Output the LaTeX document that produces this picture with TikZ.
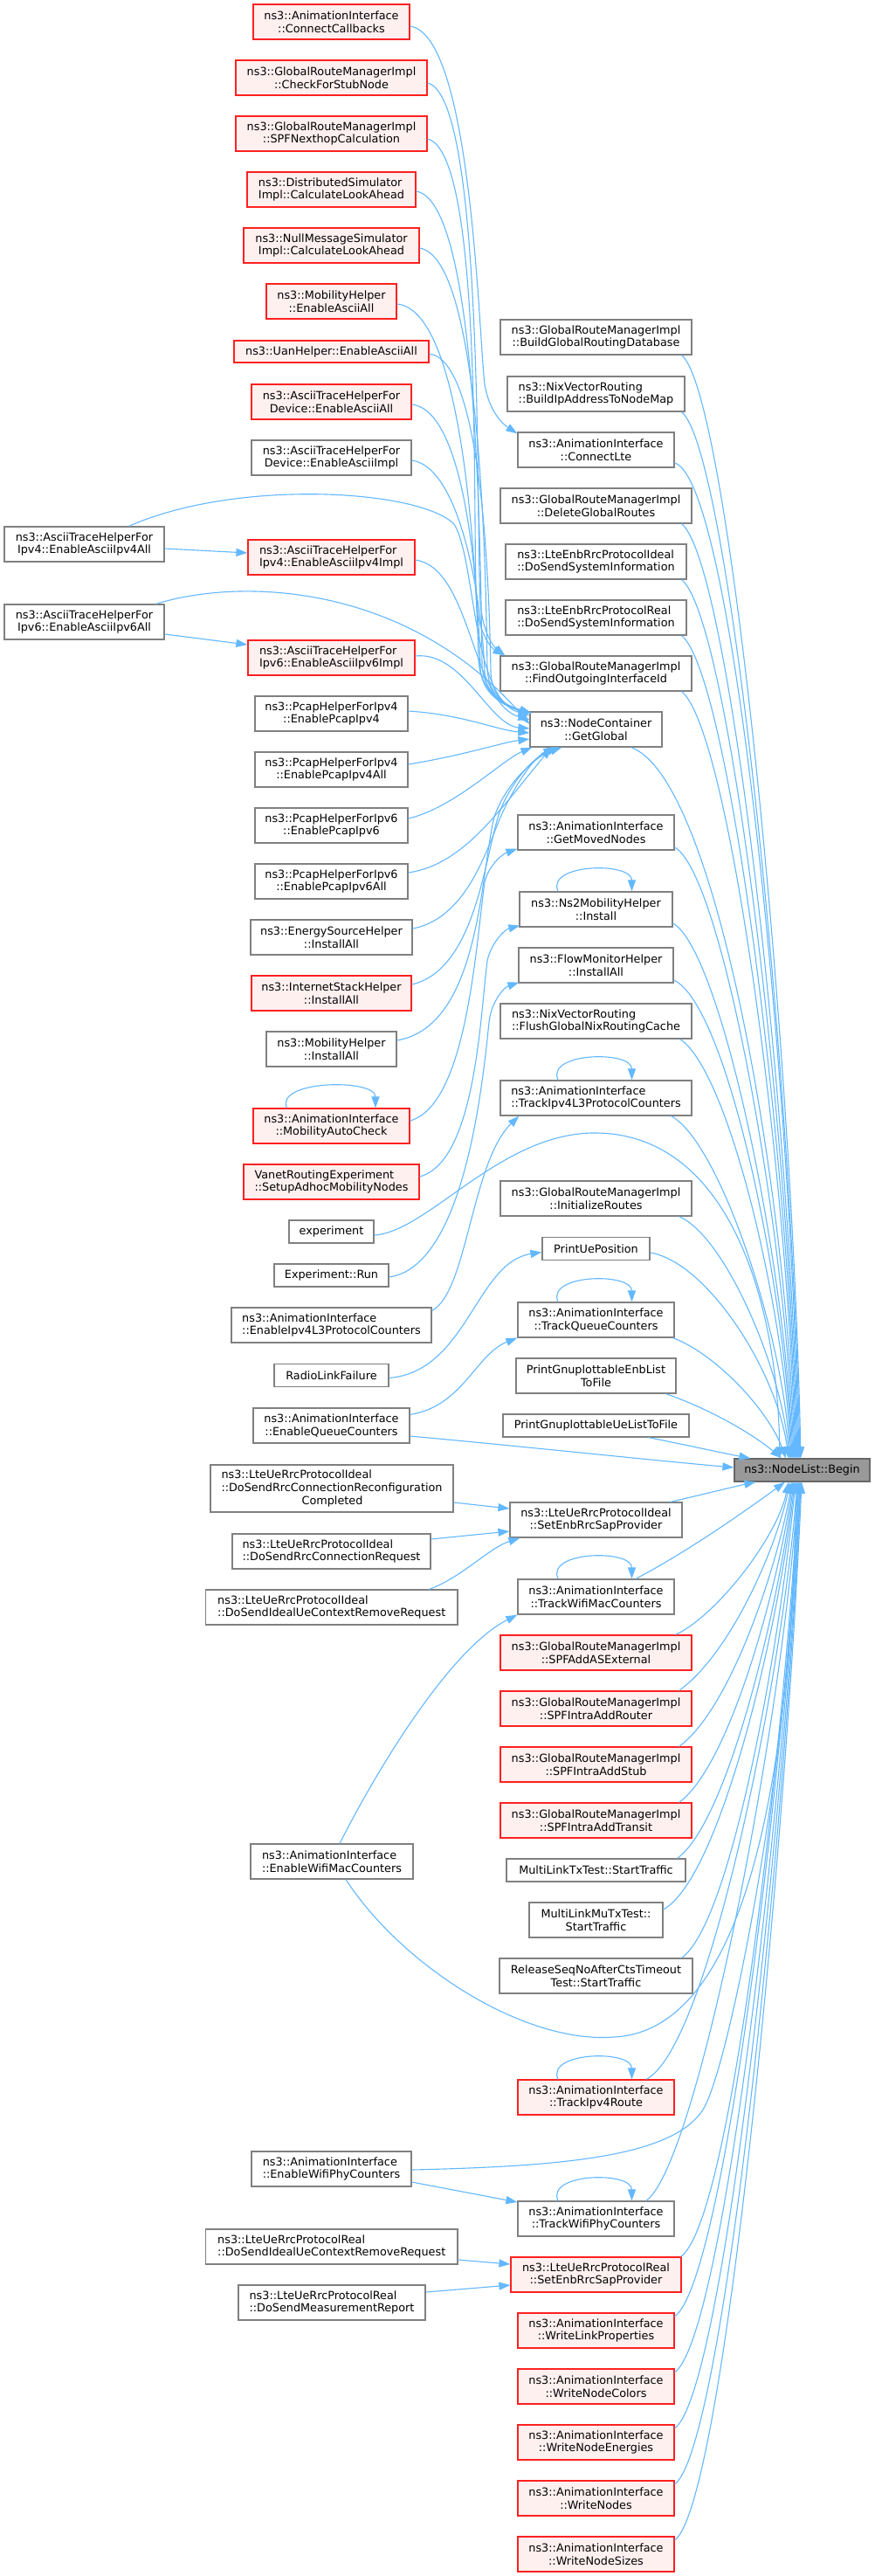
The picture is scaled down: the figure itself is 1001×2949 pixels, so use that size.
\documentclass[tikz,border=0pt]{standalone}
\usepackage{fontspec}
\newfontfamily\dvfont{DejaVu Sans}
\usetikzlibrary{arrows.meta,calc}
\definecolor{edgec}{HTML}{63B8FF}
\definecolor{grayc}{HTML}{808080}
\definecolor{redc}{HTML}{FF2020}
\definecolor{pinkc}{HTML}{FFF0F0}
\definecolor{beginfill}{HTML}{999999}
\definecolor{beginline}{HTML}{666666}
\begin{document}
\begin{tikzpicture}[x=1pt,y=-1pt,
  nd/.style={line width=1.2pt, inner sep=0pt, font={\dvfont\fontsize{12.8pt}{14.7pt}\selectfont}, align=center, text=black},
  gbox/.style={nd, draw=grayc, fill=white},
  rbox/.style={nd, draw=redc, fill=pinkc},
  bbox/.style={nd, draw=beginline, fill=beginfill},
  lft/.style={align=left},
  conn/.style={draw=edgec, line width=1.1pt, -{Triangle[length=13pt,width=9pt]}}
]
\fill[white] (0,0) rectangle (1001,2949);
\useasboundingbox (0,0) rectangle (1001,2949);

% ---------- left-middle column ----------
\node[rbox,minimum width=179pt,minimum height=40pt] (n1) at (379.5,25) {ns3::AnimationInterface\\::ConnectCallbacks};
\node[rbox,minimum width=219pt,minimum height=40pt] (n2) at (379.5,89) {ns3::GlobalRouteManagerImpl\\::CheckForStubNode};
\node[rbox,minimum width=219pt,minimum height=40pt] (n3) at (379.5,153) {ns3::GlobalRouteManagerImpl\\::SPFNexthopCalculation};
\node[rbox,lft,minimum width=193pt,minimum height=40pt] (n4) at (379.5,217) {ns3::DistributedSimulator\\Impl::CalculateLookAhead};
\node[rbox,minimum width=201pt,minimum height=40pt] (n5) at (379.5,281) {ns3::NullMessageSimulator\\Impl::CalculateLookAhead};
\node[rbox,minimum width=149pt,minimum height=40pt] (n6) at (379.5,345) {ns3::MobilityHelper\\::EnableAsciiAll};
\node[rbox,minimum width=223pt,minimum height=25pt] (n7) at (379.5,402.5) {ns3::UanHelper::EnableAsciiAll};
\node[rbox,minimum width=183pt,minimum height=40pt] (n8) at (379.5,460) {ns3::AsciiTraceHelperFor\\Device::EnableAsciiAll};
\node[gbox,minimum width=183pt,minimum height=40pt] (n9) at (379.5,524) {ns3::AsciiTraceHelperFor\\Device::EnableAsciiImpl};
\node[gbox,minimum width=183pt,minimum height=40pt] (L1) at (96.5,623) {ns3::AsciiTraceHelperFor\\Ipv4::EnableAsciiIpv4All};
\node[rbox,lft,minimum width=191pt,minimum height=40pt] (n10) at (379.5,638) {ns3::AsciiTraceHelperFor\\Ipv4::EnableAsciiIpv4Impl};
\node[gbox,minimum width=183pt,minimum height=40pt] (L2) at (96.5,712) {ns3::AsciiTraceHelperFor\\Ipv6::EnableAsciiIpv6All};
\node[rbox,lft,minimum width=191pt,minimum height=40pt] (n11) at (379.5,753) {ns3::AsciiTraceHelperFor\\Ipv6::EnableAsciiIpv6Impl};
\node[gbox,minimum width=175pt,minimum height=40pt] (n12) at (379.5,817) {ns3::PcapHelperForIpv4\\::EnablePcapIpv4};
\node[gbox,minimum width=175pt,minimum height=40pt] (n13) at (379.5,881) {ns3::PcapHelperForIpv4\\::EnablePcapIpv4All};
\node[gbox,minimum width=175pt,minimum height=40pt] (n14) at (379.5,945) {ns3::PcapHelperForIpv6\\::EnablePcapIpv6};
\node[gbox,minimum width=175pt,minimum height=40pt] (n15) at (379.5,1009) {ns3::PcapHelperForIpv6\\::EnablePcapIpv6All};
\node[gbox,minimum width=185pt,minimum height=40pt] (n16) at (379.5,1073) {ns3::EnergySourceHelper\\::InstallAll};
\node[rbox,minimum width=183pt,minimum height=40pt] (n17) at (379.5,1137) {ns3::InternetStackHelper\\::InstallAll};
\node[gbox,minimum width=149pt,minimum height=40pt] (n18) at (379.5,1201) {ns3::MobilityHelper\\::InstallAll};
\node[rbox,minimum width=179pt,minimum height=40pt] (n19) at (379.5,1289) {ns3::AnimationInterface\\::MobilityAutoCheck};
\node[rbox,lft,minimum width=201pt,minimum height=40pt] (n20) at (379.5,1353) {VanetRoutingExperiment\\::SetupAdhocMobilityNodes};
\node[gbox,minimum width=97pt,minimum height=26pt] (n21) at (379.5,1410) {experiment};
\node[gbox,minimum width=131pt,minimum height=26pt] (n22) at (379.5,1460) {Experiment::Run};
\node[gbox,lft,minimum width=229pt,minimum height=40pt] (n23) at (379.5,1517) {ns3::AnimationInterface\\::EnableIpv4L3ProtocolCounters};
\node[gbox,minimum width=131pt,minimum height=26pt] (n24) at (379.5,1574.5) {RadioLinkFailure};
\node[gbox,minimum width=179pt,minimum height=40pt] (n25) at (379.5,1632) {ns3::AnimationInterface\\::EnableQueueCounters};
\node[gbox,lft,minimum width=278pt,minimum height=54pt] (n26) at (380,1704) {ns3::LteUeRrcProtocolIdeal\\::DoSendRrcConnectionReconfiguration\\\hspace*{92.1pt}Completed};
\node[gbox,lft,minimum width=227pt,minimum height=40pt] (n27) at (379.5,1776) {ns3::LteUeRrcProtocolIdeal\\::DoSendRrcConnectionRequest};
\node[gbox,lft,minimum width=288.5pt,minimum height=40pt] (n28) at (379.75,1840) {ns3::LteUeRrcProtocolIdeal\\::DoSendIdealUeContextRemoveRequest};
\node[gbox,lft,minimum width=186pt,minimum height=40pt] (n29) at (380,2131) {ns3::AnimationInterface\\::EnableWifiMacCounters};
\node[gbox,lft,minimum width=183pt,minimum height=40pt] (n30) at (379.5,2483) {ns3::AnimationInterface\\::EnableWifiPhyCounters};
\node[gbox,lft,minimum width=288.5pt,minimum height=40pt] (n31) at (379.75,2572) {ns3::LteUeRrcProtocolReal\\::DoSendIdealUeContextRemoveRequest};
\node[gbox,lft,minimum width=214pt,minimum height=40pt] (n32) at (380,2636) {ns3::LteUeRrcProtocolReal\\::DoSendMeasurementReport};

% ---------- middle column ----------
\node[gbox,minimum width=219pt,minimum height=40pt] (m1) at (682.5,386) {ns3::GlobalRouteManagerImpl\\::BuildGlobalRoutingDatabase};
\node[gbox,lft,minimum width=203pt,minimum height=40pt] (m2) at (682.5,451) {ns3::NixVectorRouting\\::BuildIpAddressToNodeMap};
\node[gbox,minimum width=179pt,minimum height=40pt] (m3) at (682.5,515) {ns3::AnimationInterface\\::ConnectLte};
\node[gbox,minimum width=219pt,minimum height=40pt] (m4) at (682.5,579) {ns3::GlobalRouteManagerImpl\\::DeleteGlobalRoutes};
\node[gbox,lft,minimum width=207pt,minimum height=40pt] (m5) at (682.5,643) {ns3::LteEnbRrcProtocolIdeal\\::DoSendSystemInformation};
\node[gbox,lft,minimum width=207pt,minimum height=40pt] (m6) at (682.5,707) {ns3::LteEnbRrcProtocolReal\\::DoSendSystemInformation};
\node[gbox,minimum width=219pt,minimum height=40pt] (m7) at (682.5,771) {ns3::GlobalRouteManagerImpl\\::FindOutgoingInterfaceId};
\node[gbox,minimum width=151pt,minimum height=40pt] (m8) at (682.5,835) {ns3::NodeContainer\\::GetGlobal};
\node[gbox,minimum width=179pt,minimum height=40pt] (m9) at (682.5,953) {ns3::AnimationInterface\\::GetMovedNodes};
\node[gbox,minimum width=175pt,minimum height=40pt] (m10) at (682.5,1041) {ns3::Ns2MobilityHelper\\::Install};
\node[gbox,minimum width=177pt,minimum height=40pt] (m11) at (682.5,1105) {ns3::FlowMonitorHelper\\::InstallAll};
\node[gbox,lft,minimum width=219pt,minimum height=40pt] (m12) at (682.5,1169) {ns3::NixVectorRouting\\::FlushGlobalNixRoutingCache};
\node[gbox,lft,minimum width=219pt,minimum height=40pt] (m13) at (682.5,1257) {ns3::AnimationInterface\\::TrackIpv4L3ProtocolCounters};
\node[gbox,minimum width=219pt,minimum height=40pt] (m14) at (682.5,1372) {ns3::GlobalRouteManagerImpl\\::InitializeRoutes};
\node[gbox,minimum width=123pt,minimum height=26pt] (m15) at (682.5,1429.5) {PrintUePosition};
\node[gbox,minimum width=179pt,minimum height=40pt] (m16) at (682.5,1511) {ns3::AnimationInterface\\::TrackQueueCounters};
\node[gbox,minimum width=183pt,minimum height=40pt] (m17) at (682.5,1575) {PrintGnuplottableEnbList\\ToFile};
\node[gbox,minimum width=213pt,minimum height=26pt] (m18) at (682.5,1632) {PrintGnuplottableUeListToFile};
\node[bbox,minimum width=155pt,minimum height=26pt] (B) at (918.5,1683) {ns3::NodeList::Begin};
\node[gbox,minimum width=197pt,minimum height=40pt] (m19) at (682.5,1740) {ns3::LteUeRrcProtocolIdeal\\::SetEnbRrcSapProvider};
\node[gbox,minimum width=179pt,minimum height=40pt] (m20) at (682.5,1828) {ns3::AnimationInterface\\::TrackWifiMacCounters};
\node[rbox,minimum width=219pt,minimum height=40pt] (m21) at (682.5,1892) {ns3::GlobalRouteManagerImpl\\::SPFAddASExternal};
\node[rbox,minimum width=219pt,minimum height=40pt] (m22) at (682.5,1956) {ns3::GlobalRouteManagerImpl\\::SPFIntraAddRouter};
\node[rbox,minimum width=219pt,minimum height=40pt] (m23) at (682.5,2020) {ns3::GlobalRouteManagerImpl\\::SPFIntraAddStub};
\node[rbox,minimum width=219pt,minimum height=40pt] (m24) at (682.5,2084) {ns3::GlobalRouteManagerImpl\\::SPFIntraAddTransit};
\node[gbox,minimum width=205pt,minimum height=26pt] (m25) at (682.5,2141) {MultiLinkTxTest::StartTraffic};
\node[gbox,minimum width=153pt,minimum height=40pt] (m26) at (682.5,2198) {MultiLinkMuTxTest::\\StartTraffic};
\node[gbox,minimum width=221pt,minimum height=40pt] (m27) at (682.5,2262) {ReleaseSeqNoAfterCtsTimeout\\Test::StartTraffic};
\node[rbox,minimum width=179pt,minimum height=40pt] (m28) at (682.5,2401) {ns3::AnimationInterface\\::TrackIpv4Route};
\node[gbox,minimum width=179pt,minimum height=40pt] (m29) at (682.5,2540) {ns3::AnimationInterface\\::TrackWifiPhyCounters};
\node[rbox,minimum width=195pt,minimum height=40pt] (m30) at (682.5,2604) {ns3::LteUeRrcProtocolReal\\::SetEnbRrcSapProvider};
\node[rbox,minimum width=179pt,minimum height=40pt] (m31) at (682.5,2668) {ns3::AnimationInterface\\::WriteLinkProperties};
\node[rbox,minimum width=179pt,minimum height=40pt] (m32) at (682.5,2732) {ns3::AnimationInterface\\::WriteNodeColors};
\node[rbox,minimum width=179pt,minimum height=40pt] (m33) at (682.5,2796) {ns3::AnimationInterface\\::WriteNodeEnergies};
\node[rbox,minimum width=179pt,minimum height=40pt] (m34) at (682.5,2860) {ns3::AnimationInterface\\::WriteNodes};
\node[rbox,minimum width=179pt,minimum height=40pt] (m35) at (682.5,2924) {ns3::AnimationInterface\\::WriteNodeSizes};

% ---------- edges: left-middle to middle ----------
\draw[conn] ($(n1.east)+(0,5)$) .. controls (540,40) and (548,380) .. (555,440) .. controls (560,470) and (575,485) .. ($(m3.north west)+(0,2)$);
\draw[conn] ($(n2.east)+(0,6)$) .. controls (555,110) and (545,600) .. (550,690) .. controls (553,725) and (565,740) .. ($(m7.north west)+(6,0)$);
\draw[conn] ($(n3.east)+(0,6)$) .. controls (555,175) and (540,610) .. (546,695) .. controls (550,728) and (563,742) .. ($(m7.north west)+(5,0)$);

\draw[conn] ($(n4.east)+(0,2)$) .. controls (545,230) and (550,600) .. (552,760) .. controls (553,795) and (580,808) .. ($(m8.north west)+(2,2)$);
\draw[conn] ($(n5.east)+(0,3)$) .. controls (548,295) and (556,620) .. (558,765) .. controls (559,798) and (583,810) .. ($(m8.north west)+(2,2)$);
\draw[conn] ($(n6.east)+(0,3)$) .. controls (530,355) and (545,640) .. (548,755) .. controls (550,795) and (580,808) .. ($(m8.north west)+(2,2)$);
\draw[conn] ($(n7.east)+(0,2.5)$) .. controls (550,412) and (560,650) .. (562,770) .. controls (563,800) and (585,811) .. ($(m8.north west)+(2,2)$);
\draw[conn] ($(n8.east)+(0,3)$) .. controls (535,470) and (548,680) .. (550,765) .. controls (552,797) and (580,809) .. ($(m8.north west)+(2,2)$);
\draw[conn] ($(n9.east)+(0,3)$) .. controls (530,535) and (553,700) .. (555,770) .. controls (556,799) and (582,810) .. ($(m8.north west)+(2,2)$);

\draw[conn] ($(L1.north east)+(-41,0)$) .. controls (270,548) and (480,560) .. (520,600) .. controls (545,640) and (540,800) .. ($(m8.west)+(0,-16)$);
\draw[conn] ($(L1.east)+(0,5)$) -- ($(n10.west)+(0,-5)$);
\draw[conn] ($(n10.east)+(0,3)$) .. controls (540,650) and (540,805) .. ($(m8.west)+(0,-11)$);
\draw[conn] ($(L2.north east)+(-10,0)$) .. controls (280,660) and (470,670) .. ($(m8.west)+(0,-6)$);
\draw[conn] ($(L2.east)+(0,14)$) -- ($(n11.west)+(0,-15)$);
\draw[conn] ($(n11.east)+(0,-2)$) .. controls (530,745) and (560,830) .. ($(m8.west)+(0,-1)$);
\draw[conn] ($(n12.east)+(0,-3)$) .. controls (530,818) and (570,836) .. ($(m8.west)+(0,4)$);
\draw[conn] ($(n13.east)+(0,-6)$) .. controls (530,865) and (575,850) .. ($(m8.west)+(0,11)$);
\draw[conn] ($(n14.east)+(0,-8)$) .. controls (520,925) and (575,870) .. ($(m8.south west)+(3,0)$);
\draw[conn] ($(n15.east)+(0,-10)$) .. controls (530,990) and (570,930) .. ($(m8.south west)+(25,0)$);
\draw[conn] ($(n16.east)+(0,-10)$) .. controls (540,1050) and (560,960) .. (578,925) .. controls (590,900) and (610,868) .. ($(m8.south west)+(29,0)$);
\draw[conn] ($(n17.east)+(0,-10)$) .. controls (545,1110) and (555,980) .. (572,930) .. controls (585,895) and (612,866) .. ($(m8.south west)+(33,0)$);
\draw[conn] ($(n18.east)+(0,-10)$) .. controls (550,1175) and (550,1000) .. (566,935) .. controls (580,895) and (615,865) .. ($(m8.south west)+(37,0)$);

\draw[conn] ($(n19.east)+(0,-6)$) .. controls (535,1265) and (545,1080) .. (555,1010) .. controls (560,990) and (575,978) .. ($(m9.south west)+(0,-2)$);
\draw[conn] ($(n19.north)+(-51,0)$) .. controls +(-14,-32) and +(0,-34) .. ($(n19.north)+(50.5,0)$);
\draw[conn] ($(n20.east)+(0,-6)$) .. controls (545,1330) and (550,1160) .. (558,1100) .. controls (562,1080) and (578,1064) .. ($(m10.south west)+(1,-2)$);
\draw[conn] ($(n22.east)+(0,2)$) .. controls (530,1450) and (552,1250) .. (560,1170) .. controls (563,1145) and (578,1130) .. ($(m11.south west)+(1,-1)$);
\draw[conn] ($(n21.east)+(0,4)$) .. controls (490,1410) and (570,1300) .. (677,1297) .. controls (830,1294) and (890,1480) .. ($(B.north)+(-25.5,0)$);
\draw[conn] ($(n23.north east)+(0,4)$) .. controls (535,1480) and (540,1330) .. ($(m13.south west)+(22,0)$);
\draw[conn] ($(n24.east)+(0,3)$) .. controls (535,1570) and (545,1445) .. ($(m15.west)+(0,4)$);
\draw[conn] ($(n25.north east)+(0,8)$) .. controls (530,1610) and (545,1550) .. (m16.south west);
\draw[conn] ($(n25.east)+(0,12)$) .. controls (600,1656) and (750,1672) .. ($(B.west)+(0,-3)$);
\draw[conn] ($(n26.east)+(0,16)$) -- ($(m19.west)+(0,-13)$);
\draw[conn] ($(n27.east)+(0,-14)$) -- ($(m19.west)+(0,13)$);
\draw[conn] ($(n28.north east)+(-33,0)$) .. controls (530,1805) and (560,1772) .. ($(m19.south west)+(12,0)$);
\draw[conn] ($(n29.north)+(9,0)$) .. controls (440,2010) and (520,1885) .. (m20.south west);
\draw[conn] ($(n29.south)+(16,0)$) .. controls (460,2250) and (600,2340) .. (703,2332) .. controls (850,2325) and (905,2050) .. ($(B.south)+(-6.5,0)$);
\draw[conn] ($(n30.east)+(0,15)$) -- ($(m29.west)+(0,-19)$);
\draw[conn] ($(n30.east)+(0,1)$) .. controls (640,2480) and (770,2470) .. (805,2415) .. controls (835,2368) and (908,2000) .. ($(B.south)+(-4.5,0)$);
\draw[conn] ($(n31.east)+(0,15)$) -- ($(m30.west)+(0,-12)$);
\draw[conn] ($(n32.east)+(0,-12)$) -- ($(m30.west)+(0,12)$);

% ---------- self loops ----------
\foreach \s in {m10,m13,m16,m20,m28,m29}{
  \draw[conn] ($(\s.north)+(-43.5,0)$) .. controls +(-14,-32) and +(0,-34) .. ($(\s.north)+(41,0)$);
}

% ---------- edges: middle to Begin (above) ----------
\draw[conn] ($(m1.south east)+(-12,0)$) .. controls (835,451) and (907,1190) .. ($(B.north)+(-1.5,0)$);
\draw[conn] ($(m2.south east)+(-4,0)$) .. controls (835,516) and (906,1214) .. ($(B.north)+(-2.5,0)$);
\draw[conn] ($(m3.east)+(0,15)$) .. controls (840,550) and (905,1237) .. ($(B.north)+(-3.5,0)$);
\draw[conn] ($(m4.south east)+(-12,0)$) .. controls (835,644) and (904,1263) .. ($(B.north)+(-4.5,0)$);
\draw[conn] ($(m5.south east)+(-6,0)$) .. controls (835,708) and (903,1287) .. ($(B.north)+(-5.5,0)$);
\draw[conn] ($(m6.south east)+(-6,0)$) .. controls (835,772) and (902,1312) .. ($(B.north)+(-6.5,0)$);
\draw[conn] ($(m7.south east)+(-12,0)$) .. controls (835,836) and (901,1336) .. ($(B.north)+(-7.5,0)$);
\draw[conn] ($(m8.south east)+(-36,0)$) .. controls (820,890) and (900,1360) .. ($(B.north)+(-8.5,0)$);
\draw[conn] ($(m9.east)+(0,17)$) .. controls (827,1000) and (899,1404) .. ($(B.north)+(-9.5,0)$);
\draw[conn] ($(m10.east)+(0,16)$) .. controls (825,1087) and (898,1437) .. ($(B.north)+(-10.5,0)$);
\draw[conn] ($(m11.east)+(0,17)$) .. controls (832,1150) and (897,1462) .. ($(B.north)+(-11.5,0)$);
\draw[conn] ($(m12.south east)+(-14,0)$) .. controls (833,1224) and (896,1487) .. ($(B.north)+(-12.5,0)$);
\draw[conn] ($(m13.south east)+(-24,0)$) .. controls (823,1307) and (895,1521) .. ($(B.north)+(-13.5,0)$);
\draw[conn] ($(m14.south east)+(-15,0)$) .. controls (830,1415) and (894,1564) .. ($(B.north)+(-14.5,0)$);
\draw[conn] ($(m15.east)+(0,4.5)$) .. controls (810,1445) and (890,1570) .. ($(B.north)+(-15.5,0)$);
\draw[conn] ($(m16.south east)+(-2,0)$) .. controls (820,1550) and (880,1615) .. ($(B.north)+(-18.5,0)$);
\draw[conn] ($(m17.south east)+(-12,0)$) .. controls (810,1612) and (860,1640) .. ($(B.north)+(-23.5,0)$);
\draw[conn] ($(m18.south east)+(-47,0)$) .. controls (790,1655) and (830,1664) .. ($(B.north west)+(19,0)$);

% ---------- edges: middle to Begin (below) ----------
\draw[conn] ($(m19.north east)+(-14,0)$) .. controls (800,1712) and (840,1702) .. ($(B.south west)+(25,0)$);
\draw[conn] ($(m20.north)+(45.5,0)$) .. controls (790,1775) and (860,1725) .. ($(B.south)+(-19.5,0)$);
\draw[conn] ($(m21.north east)+(-19,0)$) .. controls (820,1850) and (890,1760) .. ($(B.south)+(-15.5,0)$);
\draw[conn] ($(m22.north east)+(-15,0)$) .. controls (835,1894) and (887,1778) .. ($(B.south)+(-13.5,0)$);
\draw[conn] ($(m23.north east)+(-15,0)$) .. controls (835,1958) and (889,1799) .. ($(B.south)+(-11.5,0)$);
\draw[conn] ($(m24.north east)+(-15,0)$) .. controls (835,2022) and (890,1821) .. ($(B.south)+(-10.5,0)$);
\draw[conn] ($(m25.north east)+(-10,0)$) .. controls (833,2086) and (891,1843) .. ($(B.south)+(-9.5,0)$);
\draw[conn] ($(m26.east)+(0,-12)$) .. controls (825,2150) and (892,1863) .. ($(B.south)+(-8.5,0)$);
\draw[conn] ($(m27.north east)+(-13,0)$) .. controls (838,2200) and (893,1882) .. ($(B.south)+(-7.5,0)$);
\draw[conn] ($(m28.north)+(57.5,0)$) .. controls (810,2345) and (895,1929) .. ($(B.south)+(-5.5,0)$);
\draw[conn] ($(m29.north)+(57.5,0)$) .. controls (798,2478) and (896,1976) .. ($(B.south)+(-4.5,0)$);
\draw[conn] ($(m30.north east)+(-1,0)$) .. controls (838,2542) and (897,1998) .. ($(B.south)+(-3.5,0)$);
\draw[conn] ($(m31.east)+(0,-16)$) .. controls (830,2610) and (898,2021) .. ($(B.south)+(-2.5,0)$);
\draw[conn] ($(m32.east)+(0,-16)$) .. controls (830,2674) and (899,2043) .. ($(B.south)+(-2.5,0)$);
\draw[conn] ($(m33.east)+(0,-16)$) .. controls (830,2738) and (899,2065) .. ($(B.south)+(-1.5,0)$);
\draw[conn] ($(m34.east)+(0,-16)$) .. controls (830,2802) and (900,2086) .. ($(B.south)+(-1.5,0)$);
\draw[conn] ($(m35.east)+(0,-16)$) .. controls (830,2866) and (900,2108) .. ($(B.south)+(-0.5,0)$);
\end{tikzpicture}
\end{document}
